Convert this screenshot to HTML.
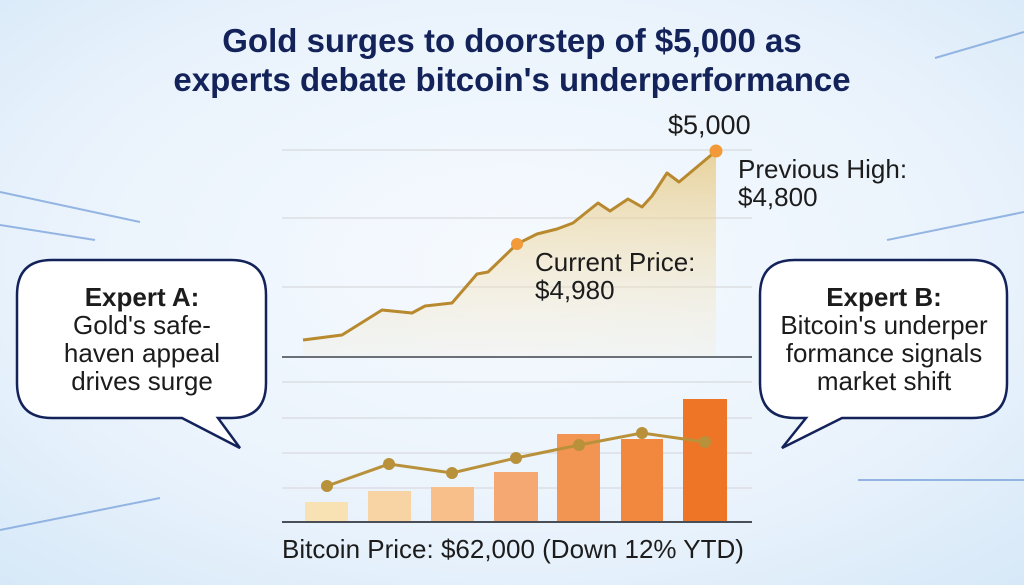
<!DOCTYPE html>
<html><head><meta charset="utf-8"><style>
html,body{margin:0;padding:0;width:1024px;height:585px;overflow:hidden}
svg{display:block}
text{font-family:"Liberation Sans",sans-serif}
</style></head><body>
<svg width="1024" height="585" viewBox="0 0 1024 585" xmlns="http://www.w3.org/2000/svg">
<defs>
<radialGradient id="bg" cx="0.5" cy="0.45" r="0.75">
<stop offset="0" stop-color="#f6fafe"/><stop offset="0.6" stop-color="#eaf3fc"/><stop offset="1" stop-color="#d6e8f8"/>
</radialGradient>
<linearGradient id="area" x1="0" y1="0" x2="0" y2="1">
<stop offset="0" stop-color="#e6c77c" stop-opacity="0.75"/><stop offset="1" stop-color="#f6ead0" stop-opacity="0.2"/>
</linearGradient>
</defs>
<rect width="1024" height="585" fill="url(#bg)"/>
<g stroke="#7fa6dc" stroke-width="2" opacity="0.8">
<line x1="935" y1="58" x2="1024" y2="32"/>
<line x1="887" y1="240" x2="1024" y2="212"/>
<line x1="858" y1="480" x2="1024" y2="480"/>
<line x1="0" y1="192" x2="140" y2="222"/>
<line x1="0" y1="225" x2="95" y2="240"/>
<line x1="0" y1="530" x2="160" y2="498"/>
</g>
<text x="512" y="52" text-anchor="middle" font-size="33" font-weight="bold" fill="#13235a">Gold surges to doorstep of $5,000 as</text>
<text x="512" y="91" text-anchor="middle" font-size="33" font-weight="bold" fill="#13235a">experts debate bitcoin's underperformance</text>
<g stroke="#dcdfe4" stroke-width="1.5">
<line x1="282" y1="150" x2="752" y2="150"/><line x1="282" y1="218" x2="752" y2="218"/><line x1="282" y1="287" x2="752" y2="287"/>
<line x1="282" y1="382" x2="752" y2="382"/><line x1="282" y1="418" x2="752" y2="418"/><line x1="282" y1="453" x2="752" y2="453"/><line x1="282" y1="488" x2="752" y2="488"/>
</g>
<path d="M303,340 L342,335 L382,310 L412,313 L425,306 L452,303 L477,274 L488,272 L517,244 L537,234 L557,229 L573,223 L598,203 L610,211 L628,199 L642,207 L652,196 L667,173 L679,182 L716,151 L716,357 L303,357 Z" fill="url(#area)"/>
<polyline points="303,340 342,335 382,310 412,313 425,306 452,303 477,274 488,272 517,244 537,234 557,229 573,223 598,203 610,211 628,199 642,207 652,196 667,173 679,182 716,151" fill="none" stroke="#b8892e" stroke-width="3" stroke-linejoin="round"/>
<line x1="282" y1="357" x2="752" y2="357" stroke="#6b6f78" stroke-width="2"/>
<circle cx="517" cy="244" r="6" fill="#f29a3a"/><circle cx="716" cy="151" r="6.5" fill="#f29a3a"/>
<g font-size="26" fill="#1c1c1c">
<text x="668" y="134" font-size="27">$5,000</text>
<text x="738" y="178">Previous High:</text><text x="738" y="206">$4,800</text>
<text x="535" y="271">Current Price:</text><text x="535" y="299">$4,980</text>
</g>
<rect x="305" y="502" width="43" height="20" fill="#f8e2b4"/>
<rect x="368" y="491" width="43" height="31" fill="#f8d4a4"/>
<rect x="431" y="487" width="43" height="35" fill="#f8bf8a"/>
<rect x="494" y="472" width="44" height="50" fill="#f5a872"/>
<rect x="557" y="434" width="43" height="88" fill="#f39552"/>
<rect x="621" y="439" width="42" height="83" fill="#f1883e"/>
<rect x="683" y="399" width="44" height="123" fill="#ee7526"/>
<polyline points="327,486 389,464 452,473 516,458 579,445 642,433 705,442" fill="none" stroke="#b8913a" stroke-width="3"/>
<g fill="#b8913a"><circle cx="327" cy="486" r="6"/><circle cx="389" cy="464" r="6"/><circle cx="452" cy="473" r="6"/><circle cx="516" cy="458" r="6"/><circle cx="579" cy="445" r="6"/><circle cx="642" cy="433" r="6"/><circle cx="705" cy="442" r="6"/></g>
<line x1="282" y1="522" x2="752" y2="522" stroke="#4a4e57" stroke-width="2"/>
<text x="282" y="558" font-size="26" fill="#1c1c1c">Bitcoin Price: $62,000 (Down 12% YTD)</text>
<path d="M52,260 H231 Q266,260 266,295 V383 Q266,418 231,418 H218 L240,448 L182,418 H52 Q17,418 17,383 V295 Q17,260 52,260 Z" fill="#fff" stroke="#13235a" stroke-width="2.5"/>
<path d="M795,260 H972 Q1007,260 1007,295 V383 Q1007,418 972,418 H842 L782,448 L806,418 H795 Q760,418 760,383 V295 Q760,260 795,260 Z" fill="#fff" stroke="#13235a" stroke-width="2.5"/>
<g font-size="26" fill="#1c1c1c" text-anchor="middle">
<text x="142" y="306" font-weight="bold">Expert A:</text>
<text x="142" y="334">Gold's safe-</text><text x="142" y="362">haven appeal</text><text x="142" y="390">drives surge</text>
<text x="884" y="306" font-weight="bold">Expert B:</text>
<text x="884" y="334">Bitcoin's underper</text><text x="884" y="362">formance signals</text><text x="884" y="390">market shift</text>
</g>
</svg>
</body></html>
